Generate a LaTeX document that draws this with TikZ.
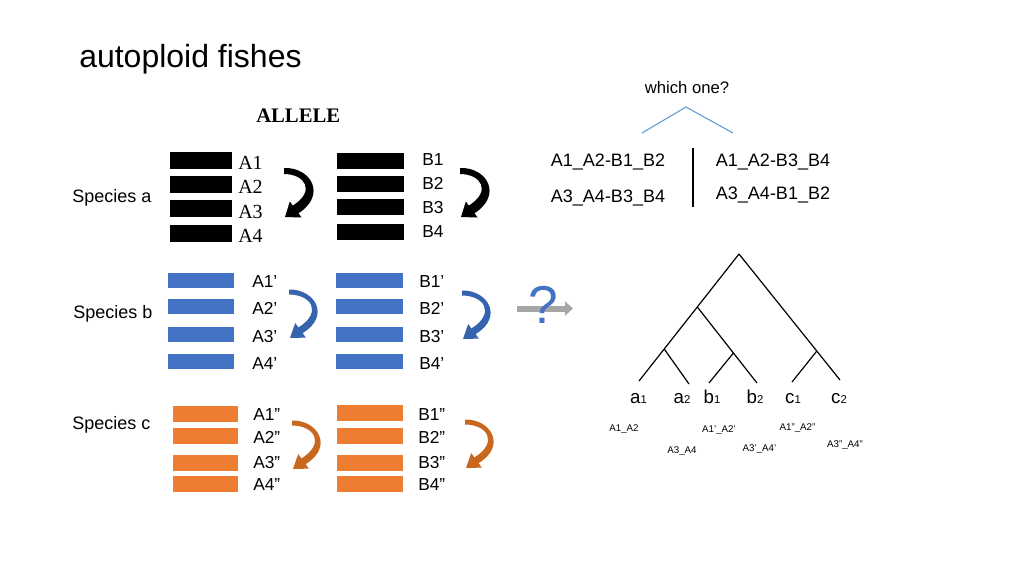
\documentclass[tikz,border=0pt]{standalone}
\usepackage{fontspec}
\setmainfont{Liberation Sans}
\newfontfamily\serifA{Liberation Serif}
\usetikzlibrary{arrows.meta}
\definecolor{barblue}{HTML}{4472C4}
\definecolor{barorange}{HTML}{ED7D31}
\definecolor{arrowblue}{HTML}{3663AE}
\definecolor{arroworange}{HTML}{C9671F}
\definecolor{linkblue}{HTML}{5B9BD5}
\definecolor{arrowgray}{HTML}{A6A6A6}
\newcommand{\fs}[1]{\fontsize{#1}{#1}\selectfont}
\tikzset{
  lbl/.style={inner sep=0pt, anchor=base west},
  clbl/.style={inner sep=0pt, anchor=base},
  blackbarA/.style={fill=black, inner sep=0pt, minimum width=46.5pt, minimum height=12.75pt},
  blackbarB/.style={fill=black, inner sep=0pt, minimum width=50.25pt, minimum height=12pt},
  bluebar/.style={fill=barblue, inner sep=0pt, minimum width=50pt, minimum height=11.25pt},
  orangebar/.style={fill=barorange, inner sep=0pt, minimum width=49pt, minimum height=12pt},
  treeline/.style={line width=0.9pt, black},
  curvarrow/.pic={
    \fill[pic actions] (0,-2.5) .. controls (26,-3) and (42,24) .. (13.6,41.1)
      -- (16.8,45.6) -- (1,46) -- (6.2,31.0) -- (9.4,35.5)
      .. controls (34,20) and (22,2.5) .. (0,2.5) -- cycle;
  },
  curvarrowthick/.pic={
    \fill[pic actions] (0,-3) .. controls (27,-4) and (43,24) .. (14.5,42.2)
      -- (17.5,46.5) -- (1,46) -- (5.8,30.5) -- (8.8,34.6)
      .. controls (32,20) and (21,3) .. (0,3) -- cycle;
  }
}
\begin{document}
\begin{tikzpicture}[x=0.75pt, y=-0.75pt]
\useasboundingbox (0,0) rectangle (1024,576);

% title
\node[lbl] (title) at (79,67) {\fs{24pt}autoploid fishes};

% ALLELE
\node[lbl] (allele) at (256,122) {\serifA\bfseries\fs{15.5pt}ALLELE};

% species labels
\node[lbl] (spa) at (72,202) {\fs{13.5pt}Species a};
\node[lbl] (spb) at (73,318) {\fs{13.5pt}Species b};
\node[lbl] (spc) at (72,429) {\fs{13.5pt}Species c};

% species a, black bars A
\node[blackbarA] (ba1) at (201,160.5) {};
\node[blackbarA] (ba2) at (201,184.5) {};
\node[blackbarA] (ba3) at (201,208.5) {};
\node[blackbarA] (ba4) at (201,233) {};
\node[lbl] (la1) at (238,169) {\serifA\fs{15pt}A1};
\node[lbl] (la2) at (238,193) {\serifA\fs{15pt}A2};
\node[lbl] (la3) at (238,218) {\serifA\fs{15pt}A3};
\node[lbl] (la4) at (238,242) {\serifA\fs{15pt}A4};
\pic[fill=black] (arra) at (284,171) {curvarrowthick};

% species a, black bars B
\node[blackbarB] (bb1) at (370.5,160.5) {};
\node[blackbarB] (bb2) at (370.5,184) {};
\node[blackbarB] (bb3) at (370.5,207) {};
\node[blackbarB] (bb4) at (370.5,231.5) {};
\node[lbl] (lb1) at (422,165) {\fs{13pt}B1};
\node[lbl] (lb2) at (422,189) {\fs{13pt}B2};
\node[lbl] (lb3) at (422,213) {\fs{13pt}B3};
\node[lbl] (lb4) at (422,237) {\fs{13pt}B4};
\pic[fill=black] (arrb) at (460,171) {curvarrowthick};

% species b, blue
\node[bluebar] (bla1) at (201,280.5) {};
\node[bluebar] (bla2) at (201,306.5) {};
\node[bluebar] (bla3) at (201,334.5) {};
\node[bluebar] (bla4) at (201,361) {};
\node[lbl] (lba1) at (252,287) {\fs{13pt}A1’};
\node[lbl] (lba2) at (252,314) {\fs{13pt}A2’};
\node[lbl] (lba3) at (252,342) {\fs{13pt}A3’};
\node[lbl] (lba4) at (252,369) {\fs{13pt}A4’};
\pic[fill=arrowblue] (arrba) at (289,292) {curvarrow};

\node[bluebar] (blb1) at (369.5,280.5) {};
\node[bluebar] (blb2) at (369.5,306.5) {};
\node[bluebar] (blb3) at (369.5,334.5) {};
\node[bluebar] (blb4) at (369.5,361) {};
\node[lbl] (lbb1) at (419,287) {\fs{13pt}B1’};
\node[lbl] (lbb2) at (419,314) {\fs{13pt}B2’};
\node[lbl] (lbb3) at (419,342) {\fs{13pt}B3’};
\node[lbl] (lbb4) at (419,369) {\fs{13pt}B4’};
\pic[fill=arrowblue] (arrbb) at (462,293) {curvarrow};

% species c, orange
\node[orangebar] (ora1) at (205.5,414) {};
\node[orangebar] (ora2) at (205.5,436) {};
\node[orangebar] (ora3) at (205.5,462.5) {};
\node[orangebar] (ora4) at (205.5,484) {};
\node[lbl] (loa1) at (253,420) {\fs{13pt}A1”};
\node[lbl] (loa2) at (253,443) {\fs{13pt}A2”};
\node[lbl] (loa3) at (253,468) {\fs{13pt}A3”};
\node[lbl] (loa4) at (253,490) {\fs{13pt}A4”};
\pic[fill=arroworange] (arroa) at (292,423) {curvarrow};

\node[orangebar] (orb1) at (370,413) {};
\node[orangebar] (orb2) at (370,436) {};
\node[orangebar] (orb3) at (370,462.5) {};
\node[orangebar] (orb4) at (370,484) {};
\node[lbl] (lob1) at (418,420) {\fs{13pt}B1”};
\node[lbl] (lob2) at (418,443) {\fs{13pt}B2”};
\node[lbl] (lob3) at (418,468) {\fs{13pt}B3”};
\node[lbl] (lob4) at (418,490) {\fs{13pt}B4”};
\pic[fill=arroworange] (arrob) at (465,422) {curvarrow};

% gray arrow with question mark
\coordinate (gstart) at (517,308.5);
\coordinate (gend) at (573,308.5);
\draw[arrowgray, line width=4.5pt, -{Triangle[length=6pt,width=10.5pt]}] (gstart) -- (gend);
\node[clbl, text=barblue] (qmark) at (543,323) {\fs{40pt}?};

% which one
\node[clbl] (which) at (687,93) {\fs{12.5pt}which one?};
\coordinate (wpeak) at (686,107);
\coordinate (wleft) at (642,133);
\coordinate (wright) at (733,133);
\draw[linkblue, line width=0.8pt] (wleft) -- (wpeak) -- (wright);

\node[clbl] (c11) at (608,166) {\fs{13.5pt}A1\_A2-B1\_B2};
\node[clbl] (c12) at (608,202) {\fs{13.5pt}A3\_A4-B3\_B4};
\node[clbl] (c21) at (773,166) {\fs{13.5pt}A1\_A2-B3\_B4};
\node[clbl] (c22) at (773,199) {\fs{13.5pt}A3\_A4-B1\_B2};
\coordinate (vtop) at (693,148);
\coordinate (vbot) at (693,207);
\draw[line width=1.5pt] (vtop) -- (vbot);

% tree
\coordinate (root) at (739,254);
\coordinate (n1) at (697.3,307);
\coordinate (na) at (664.2,349);
\coordinate (nb) at (733.4,353);
\coordinate (nc) at (816.8,351);
\coordinate (a1) at (639,381);
\coordinate (a2) at (689,384);
\coordinate (b1) at (709,383);
\coordinate (b2) at (757,383);
\coordinate (c1) at (792,382);
\coordinate (c2) at (840,380);
\draw[treeline] (root) -- (a1);
\draw[treeline] (na) -- (a2);
\draw[treeline] (n1) -- (b2);
\draw[treeline] (nb) -- (b1);
\draw[treeline] (root) -- (c2);
\draw[treeline] (nc) -- (c1);

\node[clbl] (ta1) at (638.5,403) {\fs{14pt}a\fs{8.5pt}1};
\node[clbl] (ta2) at (682,403) {\fs{14pt}a\fs{8.5pt}2};
\node[clbl] (tb1) at (712,403) {\fs{14pt}b\fs{8.5pt}1};
\node[clbl] (tb2) at (755,403) {\fs{14pt}b\fs{8.5pt}2};
\node[clbl] (tc1) at (793,403) {\fs{14pt}c\fs{8.5pt}1};
\node[clbl] (tc2) at (839,403) {\fs{14pt}c\fs{8.5pt}2};

\node[clbl] (s1) at (624,431) {\fs{7.3pt}A1\_A2};
\node[clbl] (s2) at (682,453) {\fs{7.3pt}A3\_A4};
\node[clbl] (s3) at (719,432) {\fs{7.3pt}A1’\_A2’};
\node[clbl] (s4) at (759.5,451) {\fs{7.3pt}A3’\_A4’};
\node[clbl] (s5) at (797.5,430) {\fs{7.3pt}A1”\_A2”};
\node[clbl] (s6) at (845,447) {\fs{7.3pt}A3”\_A4”};
\end{tikzpicture}
\end{document}
